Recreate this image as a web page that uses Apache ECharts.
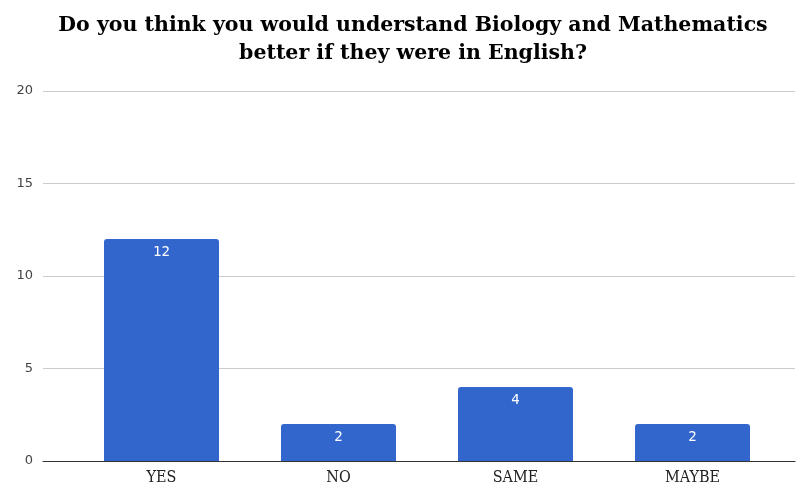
<!DOCTYPE html>
<html>
<head>
<meta charset="utf-8">
<script src="https://cdn.jsdelivr.net/npm/echarts@6/dist/echarts.min.js"></script>
<style>
  html, body { margin: 0; padding: 0; background: #fff; }
  #chart { width: 799px; height: 489px; }
</style>
</head>
<body>
<div id="chart"></div>
<script>
// 数据
const categories = ['YES', 'NO', 'SAME', 'MAYBE'];
const answers = [12, 2, 4, 2];
const yTicks = [0, 5, 10, 15, 20];

const chart = echarts.init(document.getElementById('chart'));

const option = {
    animation: false,
    title: {
        text: 'Do you think you would understand Biology and Mathematics\nbetter if they were in English?',
        left: 408,
        top: 7,
        textAlign: 'center',
        textStyle: {
            fontFamily: 'DejaVu Serif',
            fontWeight: 'bold',
            fontSize: 20.5,
            lineHeight: 28,
            color: '#000'
        }
    },
    grid: [
        { left: 43, right: 4, top: 91, bottom: 28 },   // 网格线 + y 轴
        { left: 73, right: 18, top: 91, bottom: 28 }   // 柱子
    ],
    xAxis: [
        {
            gridIndex: 0,
            type: 'value',
            min: 0,
            max: 1,
            axisLine: { show: true, lineStyle: { color: '#333', width: 1 } },
            axisTick: { show: false },
            axisLabel: { show: false },
            splitLine: { show: false }
        },
        {
            gridIndex: 1,
            type: 'category',
            data: categories,
            axisLine: { show: false },
            axisTick: { show: false },
            axisLabel: {
                margin: 9,
                fontFamily: 'DejaVu Serif Condensed',
                fontSize: 16,
                color: '#222'
            }
        }
    ],
    yAxis: [
        {
            gridIndex: 0,
            type: 'value',
            min: yTicks[0],
            max: yTicks[yTicks.length - 1],
            interval: 5,
            axisLine: { show: false },
            axisTick: { show: false },
            axisLabel: {
                margin: 10,
                fontFamily: 'DejaVu Sans',
                fontSize: 13,
                color: '#444'
            },
            splitLine: { lineStyle: { color: '#cccccc', width: 1 } }
        },
        {
            gridIndex: 1,
            type: 'value',
            min: yTicks[0],
            max: yTicks[yTicks.length - 1],
            show: false
        }
    ],
    series: [
        {
            type: 'bar',
            xAxisIndex: 1,
            yAxisIndex: 1,
            data: answers,
            barWidth: 115,
            itemStyle: { color: '#3366cc', borderRadius: [3, 3, 0, 0] },
            label: {
                show: true,
                position: 'insideTop',
                distance: 6,
                color: '#fff',
                fontFamily: 'DejaVu Sans Mono',
                fontSize: 14
            }
        }
    ]
};

chart.setOption(option);
</script>
</body>
</html>
